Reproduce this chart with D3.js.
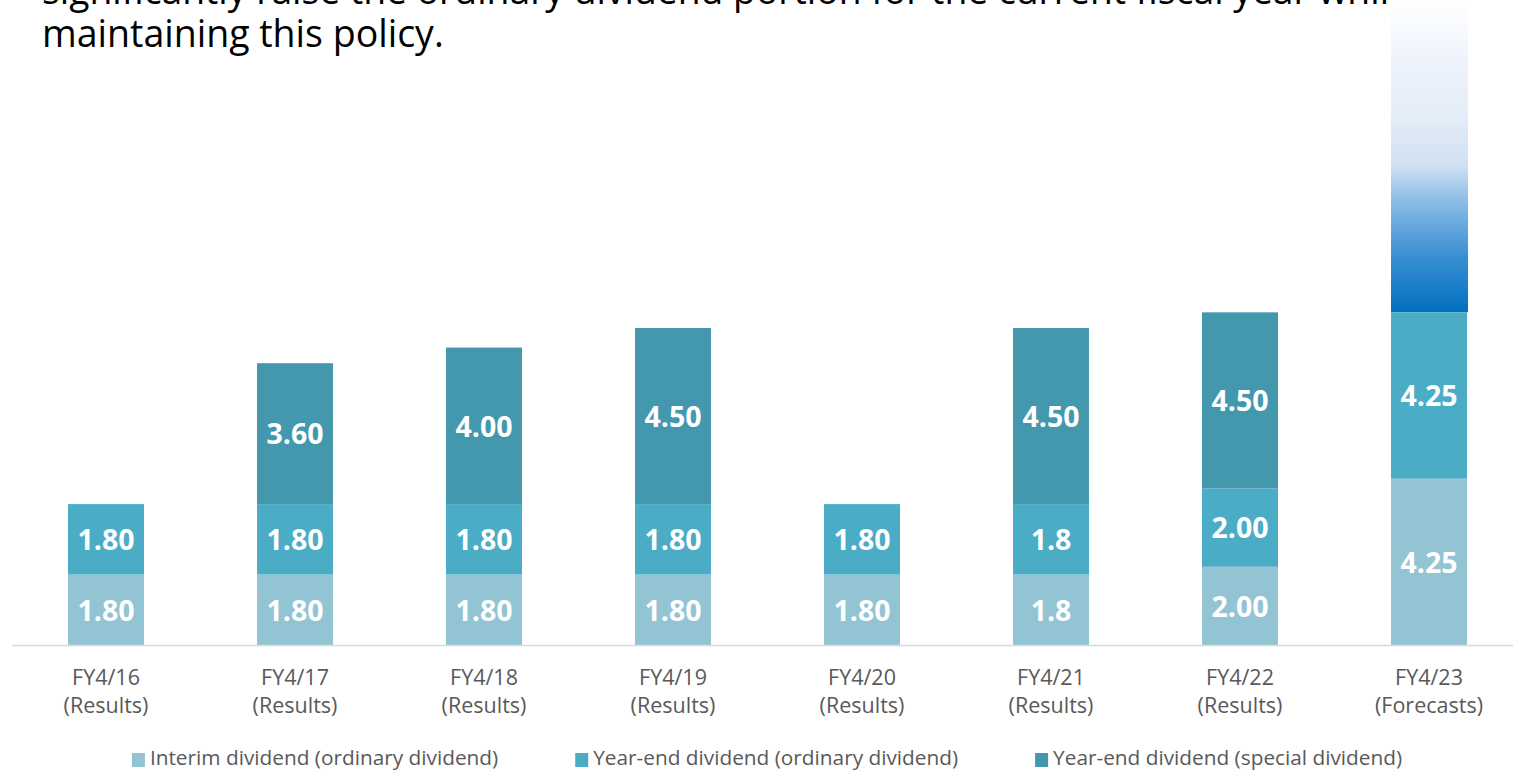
<!DOCTYPE html>
<html>
<head>
<meta charset="utf-8">
<script src="https://cdn.jsdelivr.net/npm/d3@7"></script>
<style>
  body { margin: 0; background: #fff; }
  svg { display: block; }
</style>
</head>
<body>
<script>

var years = ["FY4/16","FY4/17","FY4/18","FY4/19","FY4/20","FY4/21","FY4/22","FY4/23"];
var yearNotes = ["(Results)","(Results)","(Results)","(Results)","(Results)","(Results)","(Results)","(Forecasts)"];

var interim  = [1.80, 1.80, 1.80, 1.80, 1.80, 1.8, 2.00, 4.25];
var yearEnd  = [1.80, 1.80, 1.80, 1.80, 1.80, 1.8, 2.00, 4.25];
var special  = [0, 3.60, 4.00, 4.50, 0, 4.50, 4.50, 0];

var interimLabels = ["1.80","1.80","1.80","1.80","1.80","1.8","2.00","4.25"];
var yearEndLabels = ["1.80","1.80","1.80","1.80","1.80","1.8","2.00","4.25"];
var specialLabels = ["","3.60","4.00","4.50","","4.50","4.50",""];

var seriesNames = ["Interim dividend (ordinary dividend)",
                   "Year-end dividend (ordinary dividend)",
                   "Year-end dividend (special dividend)"];
var colors = ["#92c4d3", "#4bacc6", "#4398ae"];

var yMax = 16.48;   // top of the drawing area in yen
var forecastIndex = 7;

var width = 1513, height = 770;
var font = "'Open Sans', sans-serif";

var svg = d3.select("body").append("svg")
    .attr("width", width)
    .attr("height", height);

var x = d3.scaleBand().domain(years).range([11.5, 1523.5]).paddingInner(0.598).paddingOuter(0.299);
var y = d3.scaleLinear().domain([0, yMax]).range([645, 0]);

// gradient for the forecast "upside" arrow
var grad = svg.append("defs").append("linearGradient")
    .attr("id", "up")
    .attr("x1", 0).attr("y1", 1).attr("x2", 0).attr("y2", 0);
[[0, "#0070c0"], [0.18, "#3a8fd2"], [0.36, "#8dbde6"], [0.47, "#d0e1f2"],
 [0.62, "#e3ecf7"], [0.8, "#eef3fb"], [1, "#ffffff"]].forEach(function(s){
  grad.append("stop").attr("offset", s[0]).attr("stop-color", s[1]);
});

// text at the top (first line is cut by the page)
svg.append("text")
    .attr("x", 42).attr("y", 4)
    .attr("font-family", font).attr("font-size", "37.5px").attr("fill", "#000")
    .attr("textLength", 1368).attr("lengthAdjust", "spacingAndGlyphs")
    .text("significantly raise the ordinary dividend portion for the current fiscal year while");
svg.append("text")
    .attr("x", 42).attr("y", 47)
    .attr("font-family", font).attr("font-size", "37.5px").attr("fill", "#000")
    .text("maintaining this policy.");

// stack
var rows = years.map(function(yr, i){
  return {year: yr, interim: interim[i], yearEnd: yearEnd[i], special: special[i], i: i};
});
var stack = d3.stack().keys(["interim", "yearEnd", "special"])(rows);
var labelSets = [interimLabels, yearEndLabels, specialLabels];

// gradient bar above the forecast stack
var fTotal = interim[forecastIndex] + yearEnd[forecastIndex] + special[forecastIndex];
svg.append("rect")
    .attr("x", x(years[forecastIndex]))
    .attr("y", y(yMax))
    .attr("width", x.bandwidth() + 1)
    .attr("height", y(fTotal) - y(yMax))
    .attr("fill", "url(#up)");

var layers = svg.selectAll("g.layer")
    .data(stack)
    .enter().append("g")
    .attr("class", "layer")
    .attr("fill", function(d, i){ return colors[i]; });

layers.selectAll("rect")
    .data(function(d){ return d; })
    .enter().append("rect")
    .attr("x", function(d){ return x(d.data.year); })
    .attr("y", function(d){ return y(d[1]); })
    .attr("width", x.bandwidth())
    .attr("height", function(d){ return y(d[0]) - y(d[1]); });

layers.each(function(layer, k){
  d3.select(this).selectAll("text")
    .data(layer.filter(function(d){ return d[1] - d[0] > 0; }))
    .enter().append("text")
    .attr("x", function(d){ return x(d.data.year) + x.bandwidth() / 2; })
    .attr("y", function(d){ return (y(d[0]) + y(d[1])) / 2; })
    .attr("dy", "0.38em")
    .attr("text-anchor", "middle")
    .attr("font-family", font)
    .attr("font-weight", "700")
    .attr("font-size", "28.5px")
    .attr("fill", "#fff")
    .text(function(d){ return labelSets[k][d.data.i]; });
});

// axis line
svg.append("line")
    .attr("x1", 12).attr("x2", width)
    .attr("y1", y(0) + 0.5).attr("y2", y(0) + 0.5)
    .attr("stroke", "#d9d9d9").attr("stroke-width", 1.5);

// category labels
var cat = svg.selectAll("text.cat")
    .data(years)
    .enter().append("text")
    .attr("class", "cat")
    .attr("text-anchor", "middle")
    .attr("font-family", font)
    .attr("font-size", "21.5px")
    .attr("fill", "#595959");
cat.append("tspan")
    .attr("x", function(d){ return x(d) + x.bandwidth() / 2; })
    .attr("y", 685)
    .text(function(d){ return d; });
cat.append("tspan")
    .attr("x", function(d){ return x(d) + x.bandwidth() / 2; })
    .attr("y", 713)
    .text(function(d, i){ return yearNotes[i]; });

// legend
var legend = svg.append("g");
var lx = 0;
seriesNames.forEach(function(name, i){
  var g = legend.append("g").attr("transform", "translate(" + lx + ",0)");
  g.append("rect").attr("x", 0).attr("y", 753).attr("width", 13).attr("height", 14).attr("fill", colors[i]);
  var t = g.append("text")
      .attr("x", 18).attr("y", 765)
      .attr("font-family", font).attr("font-size", "20.8px").attr("fill", "#595959")
      .text(name);
  lx += 18 + t.node().getComputedTextLength() + 77;
});
var lw = lx - 77;
legend.attr("transform", "translate(" + (767 - lw / 2) + ",0)");

</script>
</body>
</html>
